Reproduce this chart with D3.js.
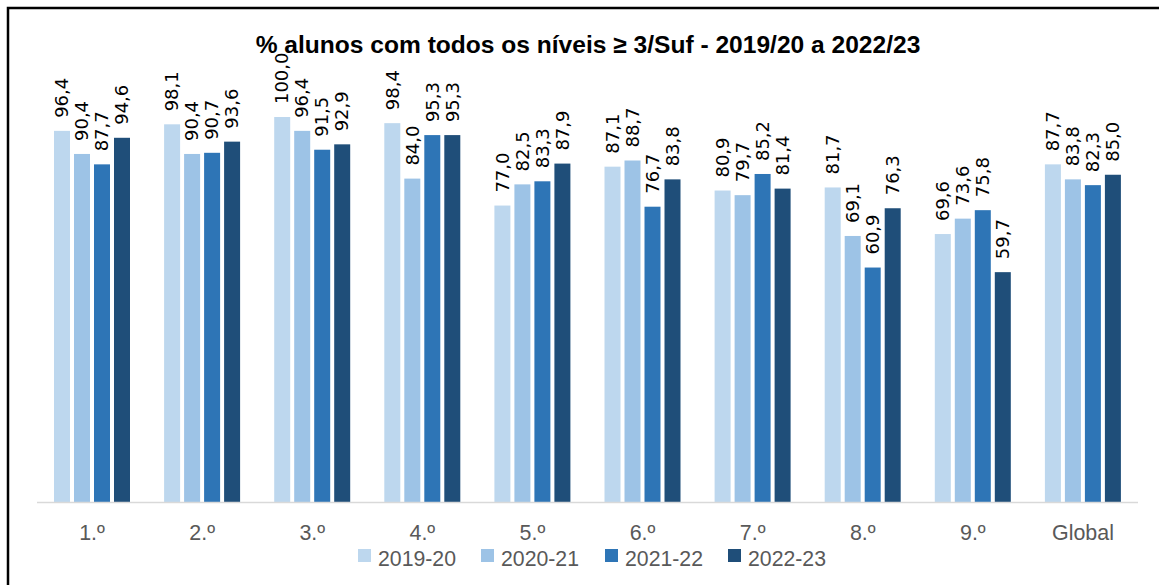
<!DOCTYPE html>
<html>
<head>
<meta charset="utf-8">
<script src="https://cdn.jsdelivr.net/npm/d3@7"></script>
<style>
  body { margin: 0; background: #fff; }
  svg { display: block; }
</style>
</head>
<body>
<svg id="chart" width="1159" height="585"></svg>
<script>
/* data */
var categories = ["1.º", "2.º", "3.º", "4.º", "5.º", "6.º", "7.º", "8.º", "9.º", "Global"];
var seriesNames = ["2019-20", "2020-21", "2021-22", "2022-23"];
var v2019 = [96.4, 98.1, 100.0, 98.4, 77.0, 87.1, 80.9, 81.7, 69.6, 87.7];
var v2020 = [90.4, 90.4, 96.4, 84.0, 82.5, 88.7, 79.7, 69.1, 73.6, 83.8];
var v2021 = [87.7, 90.7, 91.5, 95.3, 83.3, 76.7, 85.2, 60.9, 75.8, 82.3];
var v2022 = [94.6, 93.6, 92.9, 95.3, 87.9, 83.8, 81.4, 76.3, 59.7, 85.0];
var seriesValues = [v2019, v2020, v2021, v2022];
var colors = ["#bdd7ee", "#9dc3e6", "#2e75b6", "#1f4e79"];

var svg = d3.select("#chart");

// pick a font size so that a sample string gets the width seen in the reference
function fitSize(sample, family, weight, targetWidth) {
  var t = svg.append("text")
    .style("font-family", family)
    .style("font-weight", weight)
    .style("font-size", "20px")
    .text(sample);
  var w = t.node().getComputedTextLength();
  t.remove();
  return w > 0 ? 20 * targetWidth / w : 20;
}

var labelFont = "'DejaVu Sans', sans-serif";
var textFont = "'Liberation Sans', Arial, sans-serif";
var labelSize = fitSize("96,4", labelFont, "normal", 40);
var titleSize = fitSize("% alunos com todos os níveis ≥ 3/Suf - 2019/20 a 2022/23", textFont, "bold", 665);
var catSize = fitSize("Global", textFont, "normal", 62);
var legSize = fitSize("2019-20", textFont, "normal", 78);

// frame (right/bottom edges fall outside the picture)
svg.append("rect")
  .attr("x", 8).attr("y", 8)
  .attr("width", 1300).attr("height", 800)
  .attr("fill", "none").attr("stroke", "#000").attr("stroke-width", 2.5);

// scales
var x = d3.scaleBand().domain(categories).range([37, 1138]);
var xs = d3.scaleBand().domain(seriesNames).range([17, 93]).paddingInner(0.2);
var y = d3.scaleLinear().domain([0, 100]).range([502, 117]);

// title
svg.append("text")
  .attr("x", 588).attr("y", 53)
  .attr("text-anchor", "middle")
  .style("font-family", textFont)
  .style("font-weight", "bold")
  .style("font-size", titleSize + "px")
  .attr("fill", "#000")
  .text("% alunos com todos os níveis ≥ 3/Suf - 2019/20 a 2022/23");

// table of rows for the bars
var rows = [];
categories.forEach(function(c, i) {
  seriesNames.forEach(function(s, j) {
    rows.push({cat: c, ser: s, val: seriesValues[j][i], color: colors[j]});
  });
});

var g = svg.append("g");

g.selectAll("rect.bar")
  .data(rows)
  .enter()
  .append("rect")
    .attr("class", "bar")
    .attr("x", function(d) { return x(d.cat) + xs(d.ser); })
    .attr("width", xs.bandwidth())
    .attr("y", function(d) { return y(d.val); })
    .attr("height", function(d) { return y(0) - y(d.val); })
    .attr("fill", function(d) { return d.color; });

// axis line
svg.append("line")
  .attr("x1", x.range()[0]).attr("x2", x.range()[1])
  .attr("y1", y(0) + 0.5).attr("y2", y(0) + 0.5)
  .attr("stroke", "#d9d9d9").attr("stroke-width", 1.5);

// value labels, rotated, sitting just above each bar
g.selectAll("text.lbl")
  .data(rows)
  .enter()
  .append("text")
    .attr("class", "lbl")
    .attr("transform", function(d) {
      var cx = x(d.cat) + xs(d.ser) + xs.bandwidth() / 2;
      var cy = y(d.val) - 13;
      return "translate(" + cx + "," + cy + ") rotate(-90)";
    })
    .attr("dy", "0.35em")
    .style("font-family", labelFont)
    .style("font-size", labelSize + "px")
    .attr("fill", "#000")
    .text(function(d) { return d.val.toFixed(1).replace(".", ","); });

// category labels
svg.selectAll("text.cat")
  .data(categories)
  .enter()
  .append("text")
    .attr("class", "cat")
    .attr("x", function(d) { return x(d) + x.bandwidth() / 2; })
    .attr("y", 540)
    .attr("text-anchor", "middle")
    .style("font-family", textFont)
    .style("font-size", catSize + "px")
    .attr("fill", "#595959")
    .text(function(d) { return d; });

// legend
var legendX = [358, 481, 605, 728];
var legend = svg.selectAll("g.leg")
  .data(seriesNames)
  .enter()
  .append("g")
    .attr("class", "leg")
    .attr("transform", function(d, i) { return "translate(" + legendX[i] + ",0)"; });

legend.append("rect")
  .attr("x", 0).attr("y", 549)
  .attr("width", 13).attr("height", 13)
  .attr("fill", function(d, i) { return colors[i]; });

legend.append("text")
  .attr("x", 20).attr("y", 566)
  .style("font-family", textFont)
  .style("font-size", legSize + "px")
  .attr("fill", "#595959")
  .text(function(d) { return d; });
</script>
</body>
</html>
